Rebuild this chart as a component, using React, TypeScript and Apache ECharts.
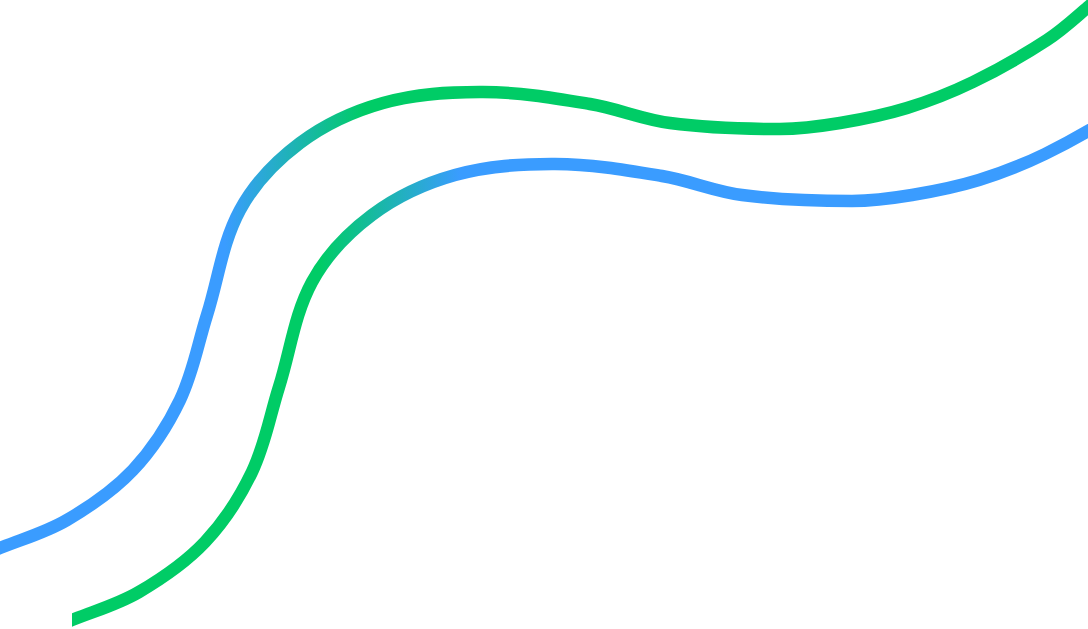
import React, { useEffect, useRef } from "react";
import * as echarts from "echarts";

// Upper line (blue -> green) (x, y in picture units, y downward)
const upperX = [-40, 0, 67, 133, 180, 207, 240, 300, 383, 483, 590, 670, 780, 840, 907, 973, 1047, 1088, 1130];
const upperY = [563, 548, 520, 470, 400, 315, 210, 143, 103, 92, 104, 123, 129, 123, 108, 82, 40, 7, -31];

// Lower line (green -> blue)
const lowerX = [32, 72, 139, 205, 252, 279, 312, 372, 455, 555, 662, 742, 852, 912, 979, 1045, 1119, 1160];
const lowerY = [635, 620, 592, 542, 472, 387, 282, 215, 175, 164, 176, 195, 201, 195, 180, 154, 112, 79];

const BLUE = "#3a9cff";
const GREEN = "#00cc66";
const W = 1088;
const H = 629;
const SMOOTH = 0.35;

function smoothPath(pts: number[][]): string {
  let d = `M${pts[0][0]},${pts[0][1]}`;
  const n = pts.length;
  const dist = (a: number[], b: number[]) => Math.hypot(b[0] - a[0], b[1] - a[1]);
  const handles = (i: number) => {
    const p = pts[i];
    const prev = pts[Math.max(0, i - 1)];
    const next = pts[Math.min(n - 1, i + 1)];
    const dp = dist(prev, p) || 1;
    const dn = dist(p, next) || 1;
    const vx = next[0] - prev[0];
    const vy = next[1] - prev[1];
    const r = dn / (dp + dn);
    return {
      out: [p[0] + vx * SMOOTH * r, p[1] + vy * SMOOTH * r],
      inn: [p[0] - vx * SMOOTH * (1 - r), p[1] - vy * SMOOTH * (1 - r)],
    };
  };
  for (let i = 0; i < n - 1; i++) {
    const a = handles(i).out;
    const b = handles(i + 1).inn;
    const p = pts[i + 1];
    d += ` C${a[0]},${a[1]} ${b[0]},${b[1]} ${p[0]},${p[1]}`;
  }
  return d;
}

function makeSeries(xs: number[], ys: number[], gridIdx: number, stroke: any) {
  const data = xs.map((x, i) => [x, ys[i]]);
  return {
    type: "custom",
    xAxisIndex: gridIdx,
    yAxisIndex: gridIdx,
    clip: true,
    data,
    encode: { x: 0, y: 1 },
    renderItem: (params: any, api: any) => {
      if (params.dataIndex !== 0) return null;
      const pts = data.map((p) => api.coord(p));
      return {
        type: "path",
        shape: { pathData: smoothPath(pts) },
        style: { fill: "none", stroke, lineWidth: 12.5 },
      };
    },
  };
}

export default function App() {
  const ref = useRef<HTMLDivElement>(null);
  useEffect(() => {
    if (!ref.current) return;
    const chart = echarts.init(ref.current, null, { renderer: "svg" });
    chart.setOption({
      animation: false,
      backgroundColor: "#ffffff",
      grid: [
        { left: 0, right: 0, top: 0, bottom: 0 },
        { left: 72, right: 0, top: 0, bottom: 0 },
      ],
      xAxis: [
        { type: "value", gridIndex: 0, min: 0, max: W, show: false },
        { type: "value", gridIndex: 1, min: 72, max: W, show: false },
      ],
      yAxis: [
        { type: "value", gridIndex: 0, min: 0, max: H, inverse: true, show: false },
        { type: "value", gridIndex: 1, min: 0, max: H, inverse: true, show: false },
      ],
      series: [
        makeSeries(
          upperX,
          upperY,
          0,
          new echarts.graphic.LinearGradient(225, 0, 365, 0, [
            { offset: 0, color: BLUE },
            { offset: 1, color: GREEN },
          ], true)
        ),
        makeSeries(
          lowerX,
          lowerY,
          1,
          new echarts.graphic.LinearGradient(320, 0, 460, 0, [
            { offset: 0, color: GREEN },
            { offset: 1, color: BLUE },
          ], true)
        ),
      ],
    });
    return () => chart.dispose();
  }, []);
  return (
    <div
      ref={ref}
      style={{ position: "fixed", left: 0, top: 0, width: W, height: H, background: "#fff" }}
    />
  );
}
